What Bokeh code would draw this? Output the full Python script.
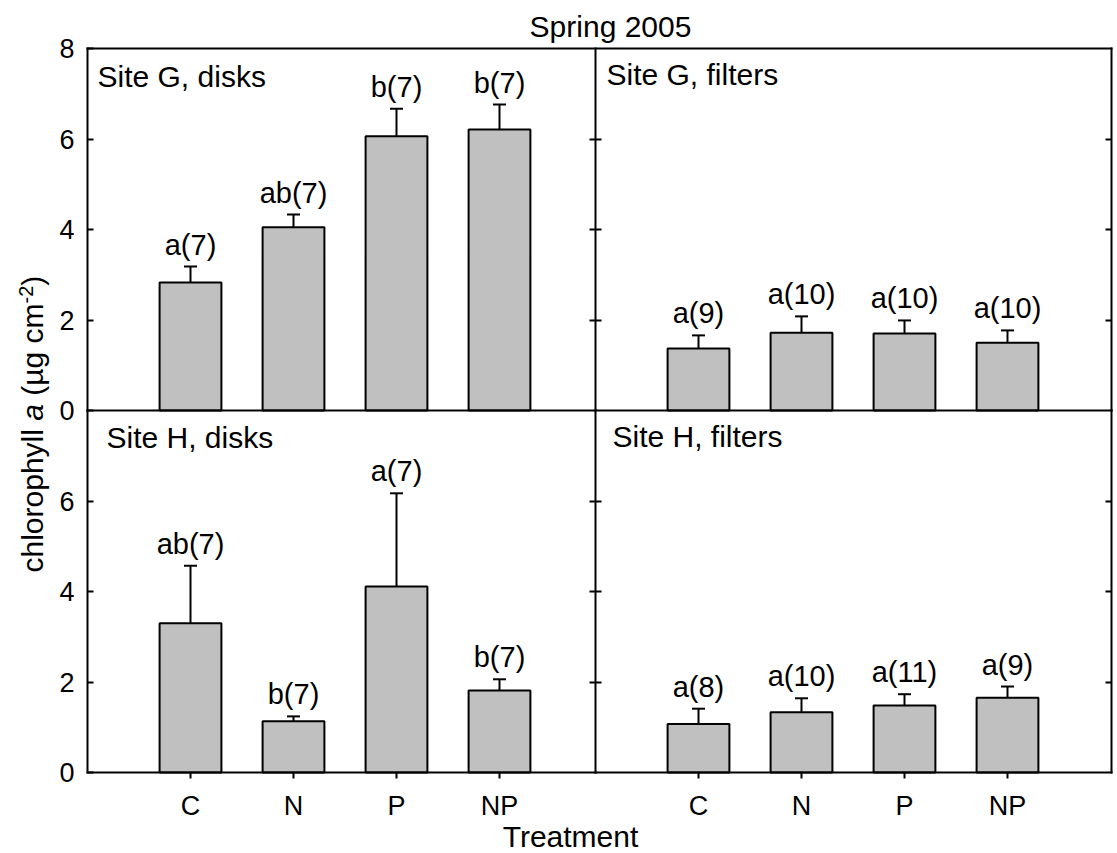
from bokeh.plotting import figure
from bokeh.models import (Range1d, LinearAxis, FixedTicker, Whisker, TeeHead,
                          Label, ColumnDataSource)
from bokeh.core.properties import value
from bokeh.embed import file_html
from bokeh.resources import INLINE

# ---- data -------------------------------------------------------------
treatments = ["C", "N", "P", "NP"]
positions = [1, 2, 3, 4]

g_disks_mean = [2.83, 4.05, 6.06, 6.21]
g_disks_se = [0.35, 0.28, 0.61, 0.55]
g_disks_lab = ["a(7)", "ab(7)", "b(7)", "b(7)"]

g_filters_mean = [1.37, 1.72, 1.70, 1.50]
g_filters_se = [0.29, 0.36, 0.29, 0.27]
g_filters_lab = ["a(9)", "a(10)", "a(10)", "a(10)"]

h_disks_mean = [3.30, 1.13, 4.11, 1.81]
h_disks_se = [1.27, 0.11, 2.06, 0.25]
h_disks_lab = ["ab(7)", "b(7)", "a(7)", "b(7)"]

h_filters_mean = [1.07, 1.33, 1.48, 1.65]
h_filters_se = [0.34, 0.31, 0.25, 0.25]
h_filters_lab = ["a(8)", "a(10)", "a(11)", "a(9)"]

y_ticks_top = [0, 2, 4, 6, 8]
y_ticks_bottom = [0, 2, 4, 6]
y_ticks_inner = [2, 4, 6]

FONT = "Liberation Sans"
BAR_FILL = "#c0c0c0"

# ---- geometry of the panel block (canvas pixels) ------------------------
W, H = 1117, 853
LEFT_PX, BOTTOM_PX = 87.0, 772.0       # lower-left corner of the panel block
UX, UY = 103.0, 45.25                  # pixels per x unit / per y unit
LEFT_W = 4.932                         # width of left column, x units
RIGHT_W = 5.010                        # width of right column, x units
PANEL_H = 8.0                          # height of each row, y units

x0 = -LEFT_PX / UX
x1 = (W - LEFT_PX) / UX
y0 = -(H - BOTTOM_PX) / UY
y1 = BOTTOM_PX / UY

# The frame covers the whole canvas; the main ranges serve the left column
# and the bottom row, the extra ranges shift the origin to the right column
# and to the top row.
p = figure(width=W, height=H, output_backend="svg", toolbar_location=None,
           title=None, x_range=Range1d(x0, x1), y_range=Range1d(y0, y1),
           x_axis_location=None, y_axis_location=None,
           min_border_left=0, min_border_right=0, min_border_top=0,
           min_border_bottom=0)
p.extra_x_ranges = {"right": Range1d(x0 - LEFT_W, x1 - LEFT_W)}
p.extra_y_ranges = {"top": Range1d(y0 - PANEL_H, y1 - PANEL_H)}
p.grid.visible = False
p.outline_line_color = None
p.background_fill_color = "white"
p.border_fill_color = "white"

panels = [
    ("Site G, disks", "default", "top", g_disks_mean, g_disks_se, g_disks_lab, 10, -28),
    ("Site G, filters", "right", "top", g_filters_mean, g_filters_se, g_filters_lab, 11, -26),
    ("Site H, disks", "default", "default", h_disks_mean, h_disks_se, h_disks_lab, 19, -27),
    ("Site H, filters", "right", "default", h_filters_mean, h_filters_se, h_filters_lab, 17, -26),
]

for name, xr, yr, mean, se, lab, dx, dy in panels:
    src = ColumnDataSource(dict(
        x=positions, mean=mean,
        upper=[m + s for m, s in zip(mean, se)],
        label=lab,
    ))
    p.vbar(x="x", top="mean", bottom=0, width=0.6, source=src,
           fill_color=BAR_FILL, line_color="black", line_width=2,
           x_range_name=xr, y_range_name=yr)
    p.add_layout(Whisker(source=src, base="x", upper="upper", lower="mean",
                         dimension="height", line_color="black", line_width=2,
                         upper_head=TeeHead(size=13, line_width=2, line_color="black"),
                         lower_head=None, x_range_name=xr, y_range_name=yr))
    p.text(x="x", y="upper", text="label", source=src, text_align="center",
           text_baseline="alphabetic", y_offset=-22, text_color="black",
           text_font=value(FONT), text_font_size="29px",
           x_range_name=xr, y_range_name=yr)
    p.add_layout(Label(x=0, y=PANEL_H, x_range_name=xr, y_range_name=yr,
                       x_offset=dx, y_offset=dy, text=name,
                       text_align="left", text_baseline="alphabetic",
                       text_font=FONT, text_font_size="30px", text_color="black"))


def axis(side, xr, yr, loc, bounds, ticks, show_labels=False, tick_in=0,
         tick_out=0, overrides=None):
    ax = LinearAxis(x_range_name=xr, y_range_name=yr, fixed_location=loc,
                    bounds=bounds, ticker=FixedTicker(ticks=ticks),
                    axis_line_color="black", axis_line_width=2,
                    axis_line_cap="square",
                    major_tick_in=tick_in, major_tick_out=tick_out,
                    major_tick_line_width=2, major_tick_line_color="black",
                    minor_tick_line_color=None,
                    major_label_standoff=13, major_label_text_font=FONT,
                    major_label_text_font_size="27px",
                    major_label_text_color="black" if show_labels else None)
    if overrides:
        ax.major_label_overrides = overrides
    p.add_layout(ax, side)
    return ax


# left edge, labelled
axis("left", "default", "top", 0, (0, PANEL_H), y_ticks_top, True, tick_in=6)
axis("left", "default", "default", 0, (0, PANEL_H), y_ticks_bottom, True, tick_in=6)
# middle divider, ticks into both panels
axis("left", "right", "top", 0, (0, PANEL_H), y_ticks_inner, tick_in=6, tick_out=6)
axis("left", "right", "default", 0, (0, PANEL_H), y_ticks_inner, tick_in=6, tick_out=6)
# right edge
axis("right", "right", "top", RIGHT_W, (0, PANEL_H), y_ticks_inner, tick_in=6)
axis("right", "right", "default", RIGHT_W, (0, PANEL_H), y_ticks_inner, tick_in=6)
# top edge and horizontal divider
axis("above", "default", "top", PANEL_H, (0, LEFT_W + RIGHT_W), [])
axis("below", "default", "top", 0, (0, LEFT_W + RIGHT_W), [])
# bottom edge with treatment ticks
cat_labels = {pos: t for pos, t in zip(positions, treatments)}
axis("below", "default", "default", 0, (0, LEFT_W), positions, True,
     tick_out=6, overrides=cat_labels).major_label_standoff = 12
axis("below", "right", "default", 0, (0, RIGHT_W), positions, True,
     tick_out=6, overrides=cat_labels).major_label_standoff = 12

# ---- titles ----------------------------------------------------------------


def at(cx, cy):
    """Canvas pixel -> main-range data coordinates."""
    return (cx - LEFT_PX) / UX, (BOTTOM_PX - cy) / UY


tx, ty = at(610, 26)
p.add_layout(Label(x=tx, y=ty, text="Spring 2005", text_align="center",
                   text_baseline="alphabetic", text_font=FONT,
                   text_font_size="30px", text_color="black"))
tx, ty = at(570, 836)
p.add_layout(Label(x=tx, y=ty, text="Treatment", text_align="center",
                   text_baseline="alphabetic", text_font=FONT,
                   text_font_size="30px", text_color="black"))

# y-axis title built from pieces: italic "a" and superscript "-2"
ylabel_parts = [
    ("chlorophyll", 32, 572, "30px", "normal"),
    ("a", 32, 420.3, "30px", "italic"),
    ("(\u00b5g cm", 32, 395.3, "30px", "normal"),
    ("-2", 25, 303.0, "20px", "normal"),
    (")", 32, 285.2, "30px", "normal"),
]
for txt, cx, cy, size, style in ylabel_parts:
    lx, ly = at(cx, cy)
    p.add_layout(Label(x=lx, y=ly, text=txt, angle=90, angle_units="deg",
                       text_align="left", text_baseline="alphabetic",
                       text_font=FONT, text_font_size=size,
                       text_font_style=style, text_color="black"))

open("out.html", "w").write(file_html(p, INLINE))
